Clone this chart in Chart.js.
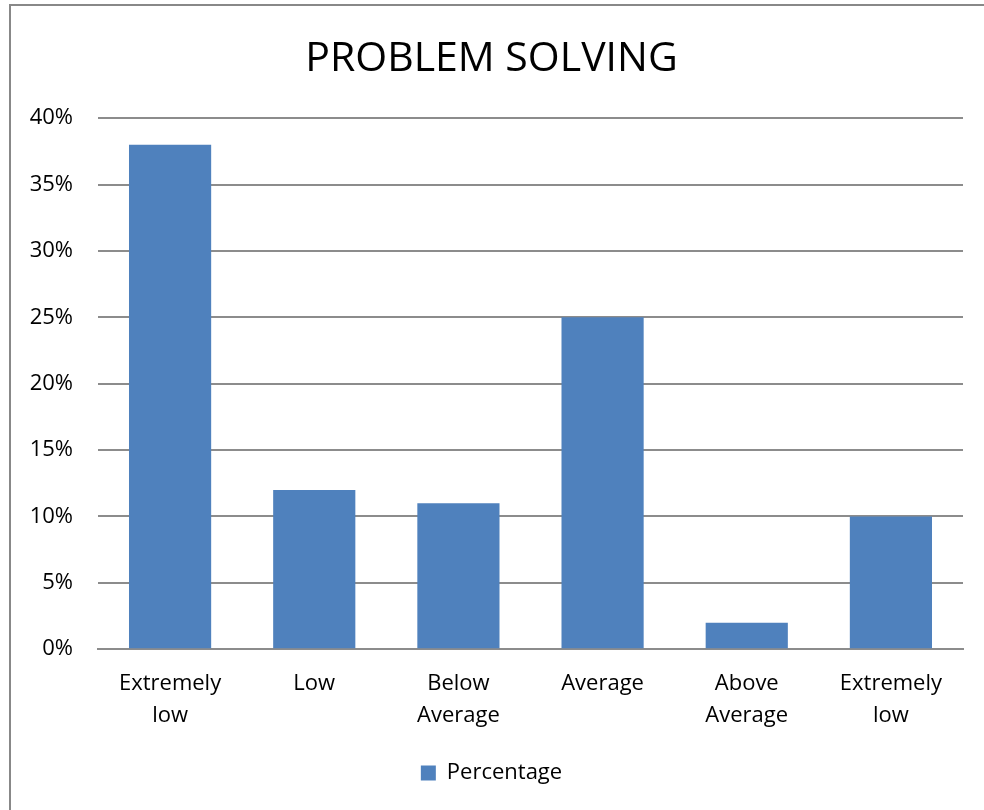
<!DOCTYPE html>
<html>
<head>
<meta charset="utf-8">
<script src="https://cdn.jsdelivr.net/npm/chart.js@4/dist/chart.umd.min.js"></script>
<style>
  html, body { margin: 0; padding: 0; background: #fff; }
  #wrap { position: relative; width: 984px; height: 810px; }
</style>
</head>
<body>
<div id="wrap"><canvas id="c" width="984" height="810"></canvas></div>
<script>
// Problem-solving score bands and the share of respondents in each
const categories = [["Extremely", "low"], "Low", ["Below", "Average"], "Average", ["Above", "Average"], ["Extremely", "low"]];
const percentages = [38, 12, 11, 25, 2, 10];
const yTicks = [0, 5, 10, 15, 20, 25, 30, 35, 40];

const FONT = "'Open Sans', 'Noto Sans', sans-serif";
const BAR = "#4F81BD";
const GRID = "#8c8c8c";

// outer frame around the whole chart object
const framePlugin = {
  id: 'frame',
  beforeDraw(chart) {
    const ctx = chart.ctx;
    ctx.save();
    ctx.fillStyle = '#fff';
    ctx.fillRect(0, 0, chart.width, chart.height);
    ctx.strokeStyle = '#888';
    ctx.lineWidth = 2;
    ctx.strokeRect(10, 5, chart.width + 40, chart.height + 40);
    ctx.restore();
  }
};

new Chart(document.getElementById('c'), {
  type: 'bar',
  data: {
    labels: categories,
    datasets: [{
      label: 'Percentage',
      data: percentages,
      backgroundColor: BAR,
      borderWidth: 0,
      categoryPercentage: 1,
      barPercentage: 0.57
    }]
  },
  options: {
    responsive: false,
    animation: false,
    devicePixelRatio: 1,
    layout: { padding: { left: 20, right: 21, top: 10, bottom: 16 } },
    plugins: {
      title: {
        display: true,
        text: 'PROBLEM SOLVING',
        color: '#000',
        font: { family: FONT, size: 41, weight: 'normal', lineHeight: 1.2 },
        padding: { top: 25, bottom: 34 }
      },
      legend: {
        position: 'bottom',
        labels: {
          color: '#000',
          font: { family: FONT, size: 22, lineHeight: 1.2 },
          boxWidth: 15,
          boxHeight: 15,
          padding: 11
        }
      },
      tooltip: { enabled: false }
    },
    scales: {
      x: {
        grid: { display: false, drawTicks: false },
        border: { display: true, color: GRID, width: 2 },
        ticks: {
          color: '#000',
          font: { family: FONT, size: 22, lineHeight: 1.45 },
          maxRotation: 0,
          autoSkip: false,
          padding: 19
        }
      },
      y: {
        min: 0,
        max: 40,
        afterBuildTicks(scale) { scale.ticks = yTicks.map(v => ({ value: v })); },
        afterFit(scale) { scale.width = 78; },
        grid: { color: GRID, lineWidth: 2, drawTicks: false },
        border: { display: false },
        ticks: {
          color: '#000',
          font: { family: FONT, size: 22 },
          padding: 25,
          callback: v => v + '%'
        }
      }
    }
  },
  plugins: [framePlugin]
});
</script>
</body>
</html>
